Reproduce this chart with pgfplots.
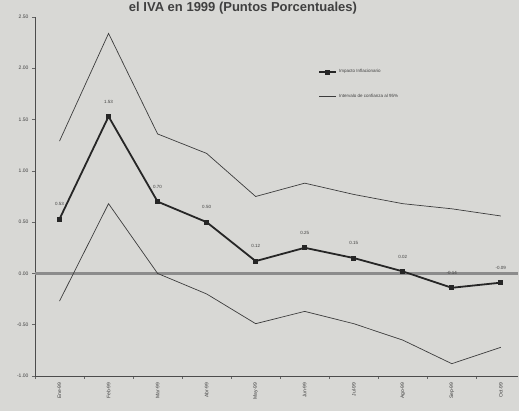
\documentclass[border=0pt]{standalone}
\usepackage{fontspec}
\setmainfont{Liberation Sans}
\usepackage{pgfplots}
\pgfplotsset{compat=1.18}
\definecolor{paper}{RGB}{216,216,213}
\definecolor{zline}{RGB}{140,140,140}
\definecolor{band}{RGB}{60,60,60}
\begin{document}
\begin{tikzpicture}
\fill[paper] (-35pt,-35pt) rectangle (484pt,376pt);
\useasboundingbox (-35pt,-35pt) rectangle (484pt,376pt);
\node[anchor=base,font=\bfseries\fontsize{13}{14}\selectfont,text=black!75] at (208pt,364pt) {el IVA en 1999 (Puntos Porcentuales)};
\begin{axis}[
  at={(0pt,0pt)}, anchor=south west,
  scale only axis, width=483pt, height=359pt,
  xmin=-0.5, xmax=9.35, ymin=-1, ymax=2.5,
  axis x line*=bottom, axis y line*=left,
  axis line style={black!70, line width=0.9pt},
  xtick={0,...,9},
  xticklabels={Ene-99,Feb-99,Mar-99,Abr-99,May-99,Jun-99,Jul-99,Ago-99,Sep-99,Oct-99},
  x tick label style={rotate=90, anchor=east, font=\fontsize{5}{6}\selectfont, text=black!75},
  major x tick style={draw=none},
  minor xtick={-0.5,0.5,1.5,2.5,3.5,4.5,5.5,6.5,7.5,8.5},
  minor tick length=3pt,
  minor x tick style={black!60, line width=0.6pt},
  ytick={-1,-0.5,0,0.5,1,1.5,2,2.5},
  y tick label style={font=\fontsize{5}{6}\selectfont, text=black!75,
    /pgf/number format/fixed, /pgf/number format/fixed zerofill,
    /pgf/number format/precision=2, /pgf/number format/assume math mode=true},
  tick align=outside, major tick length=3pt,
  y tick style={black!60, line width=0.6pt},
  clip=false,
  legend style={at={(0.58,0.865)}, anchor=north west, draw=none, fill=none,
    font=\fontsize{4.5}{5}\selectfont, row sep=16pt, text=black!75},
  legend cell align=left,
]
\addplot[zline, line width=2.2pt, forget plot] coordinates {(-0.5,0) (9.35,0)};
\addplot[black!85, line width=1.8pt, mark=square*, mark size=1.6pt,
  nodes near coords, point meta=explicit,
  nodes near coords align={anchor=south},
  every node near coord/.append style={font=\fontsize{4.5}{5}\selectfont, text=black!75, anchor=south, yshift=9pt,
    /pgf/number format/fixed, /pgf/number format/fixed zerofill,
    /pgf/number format/precision=2, /pgf/number format/assume math mode=true}]
  coordinates {(0,0.53)[0.53] (1,1.53)[1.53] (2,0.70)[0.70] (3,0.50)[0.50] (4,0.12)[0.12]
               (5,0.25)[0.25] (6,0.15)[0.15] (7,0.02)[0.02] (8,-0.14)[-0.14] (9,-0.09)[-0.09]};
\addlegendentry{Impacto Inflacionario}
\addplot[band, line width=0.7pt]
  coordinates {(0,1.29) (1,2.34) (2,1.36) (3,1.17) (4,0.75) (5,0.88) (6,0.77) (7,0.68) (8,0.63) (9,0.56)};
\addlegendentry{Intervalo de confianza al 95\%}
\addplot[band, line width=0.7pt, forget plot]
  coordinates {(0,-0.27) (1,0.68) (2,0.00) (3,-0.20) (4,-0.49) (5,-0.37) (6,-0.49) (7,-0.65) (8,-0.88) (9,-0.72)};
\end{axis}
\end{tikzpicture}
\end{document}
